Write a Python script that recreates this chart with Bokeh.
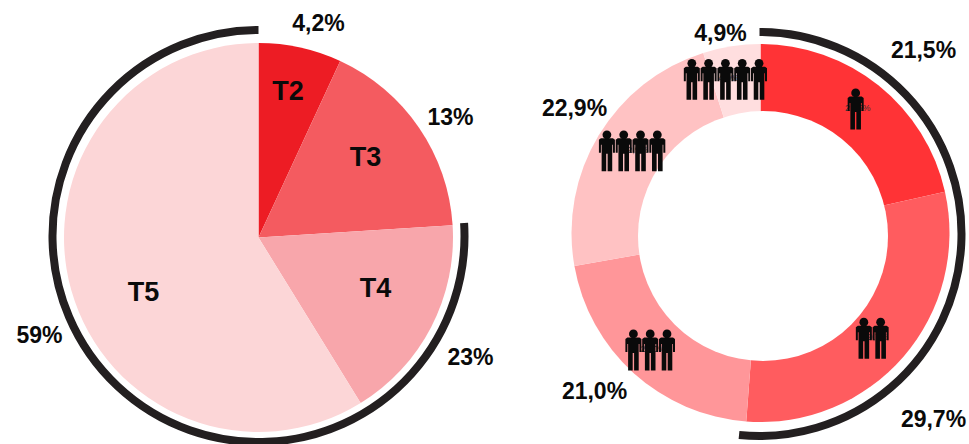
import math
from bokeh.plotting import figure
from bokeh.core.properties import value
from bokeh.embed import file_html
from bokeh.resources import INLINE

# --- data ---
pie_names = ["T2", "T3", "T4", "T5"]
pie_shares = [6.9, 17.1, 17.2, 58.8]          # slice sizes as drawn (%)
pie_labels = ["4,2%", "13%", "23%", "59%"]
pie_colors = ["#ED1C24", "#F45B60", "#F8A6AB", "#FCD6D7"]

donut_values = [21.5, 29.7, 21.0, 22.9, 4.9]
donut_labels = ["21,5%", "29,7%", "21,0%", "22,9%", "4,9%"]
donut_colors = ["#FF3336", "#FF5C5F", "#FF9699", "#FFC2C3", "#FFDEDF"]
donut_people = [1, 2, 3, 4, 5]

W, H = 969, 444
def X(px): return px
def Y(py): return 444 - py

p = figure(width=W, height=H, x_range=(0, W), y_range=(0, H),
           output_backend="svg", toolbar_location=None, min_border=0,
           outline_line_color=None, background_fill_color="white",
           border_fill_color="white")
p.axis.visible = False
p.grid.visible = False

def ang(a):  # clockwise degrees from 12 o'clock -> radians from +x
    return math.radians(90 - a)

FONT = value("Liberation Sans")
def label(txt, px, py, size, bold=True, color="#0A0A0A"):
    p.text([X(px)], [Y(py)], text=[txt], text_font=FONT, text_font_size=size,
           text_font_style="bold" if bold else "normal", text_color=color,
           text_align="center", text_baseline="middle")

# left pie
cx, cy, r = 258, 237, 194.5
a = 0
for share, col in zip(pie_shares, pie_colors):
    b = a + share * 3.6
    p.wedge([X(cx)], [Y(cy)], radius=r, start_angle=ang(a), end_angle=ang(b),
            direction="clock", fill_color=col, line_color=None)
    a = b
p.arc([X(cx)], [Y(235.5)], radius=206,
      start_angle=ang(a - (pie_shares[2] + pie_shares[3]) * 3.6), end_angle=ang(a),
      direction="clock", line_color="#231F20", line_width=8)

for txt, (px, py) in zip(pie_names, [(287.5, 90), (365, 156), (375, 287), (143, 291)]):
    label(txt, px, py, "27px")
for txt, (px, py) in zip(pie_labels, [(318, 22), (450, 116), (470, 356), (39, 334)]):
    label(txt, px, py, "23px")

# right donut
dx, dy, ro = 760, 232.5, 189
hx, hy, ri = 762.5, 235.5, 125
a = 0
mids = []
for v, col in zip(donut_values, donut_colors):
    b = a + v * 3.6
    p.wedge([X(dx)], [Y(dy)], radius=ro,
            start_angle=ang(a), end_angle=ang(b), direction="clock",
            fill_color=col, line_color=None)
    mids.append((a + b) / 2)
    a = b
p.circle([X(hx)], [Y(hy)], radius=ri, fill_color="white", line_color=None)
p.arc([X(759)], [Y(233.5)], radius=202, start_angle=ang(0),
      end_angle=ang((donut_values[0] + donut_values[1]) * 3.6 + 1.5),
      direction="clock", line_color="#231F20", line_width=8)

for txt, (px, py) in zip(donut_labels, [(923, 49), (933, 418), (594, 390), (574, 107), (720, 32)]):
    label(txt, px, py, "23px")

# person icons
shape = [(-6, -12.5), (6, -12.5), (8, -11), (8, 2), (6, 2), (6, -6), (5.3, -6), (5.3, 20.5), (0.7, 20.5), (0.7, 3),
         (-0.7, 3), (-0.7, 20.5), (-5.3, 20.5), (-5.3, -6), (-6, -6), (-6, 2), (-8, 2), (-8, -11)]
icon_shift = [(-3, -2), (-7, 2), (-5, 0), (6, -1.5), (-11, 1)]
spacing = 16.8
for n, mid, txt, (sx, sy) in zip(donut_people, mids, donut_labels, icon_shift):
    ix = dx + 157 * math.sin(math.radians(mid)) + sx
    iy = dy + 0.5 - 157 * math.cos(math.radians(mid)) + sy
    label(txt, ix + (2 if n == 1 else 3), iy - 1, "9px", bold=False, color="#333333")
    for k in range(n):
        ox = ix + (k - (n - 1) / 2) * spacing
        p.patch([X(ox + u) for u, _ in shape], [Y(iy + w) for _, w in shape],
                fill_color="#0A0A0A", line_color=None)
        p.circle([X(ox)], [Y(iy - 16)], radius=4.4, fill_color="#0A0A0A", line_color=None)

open("out.html", "w").write(file_html(p, INLINE))
